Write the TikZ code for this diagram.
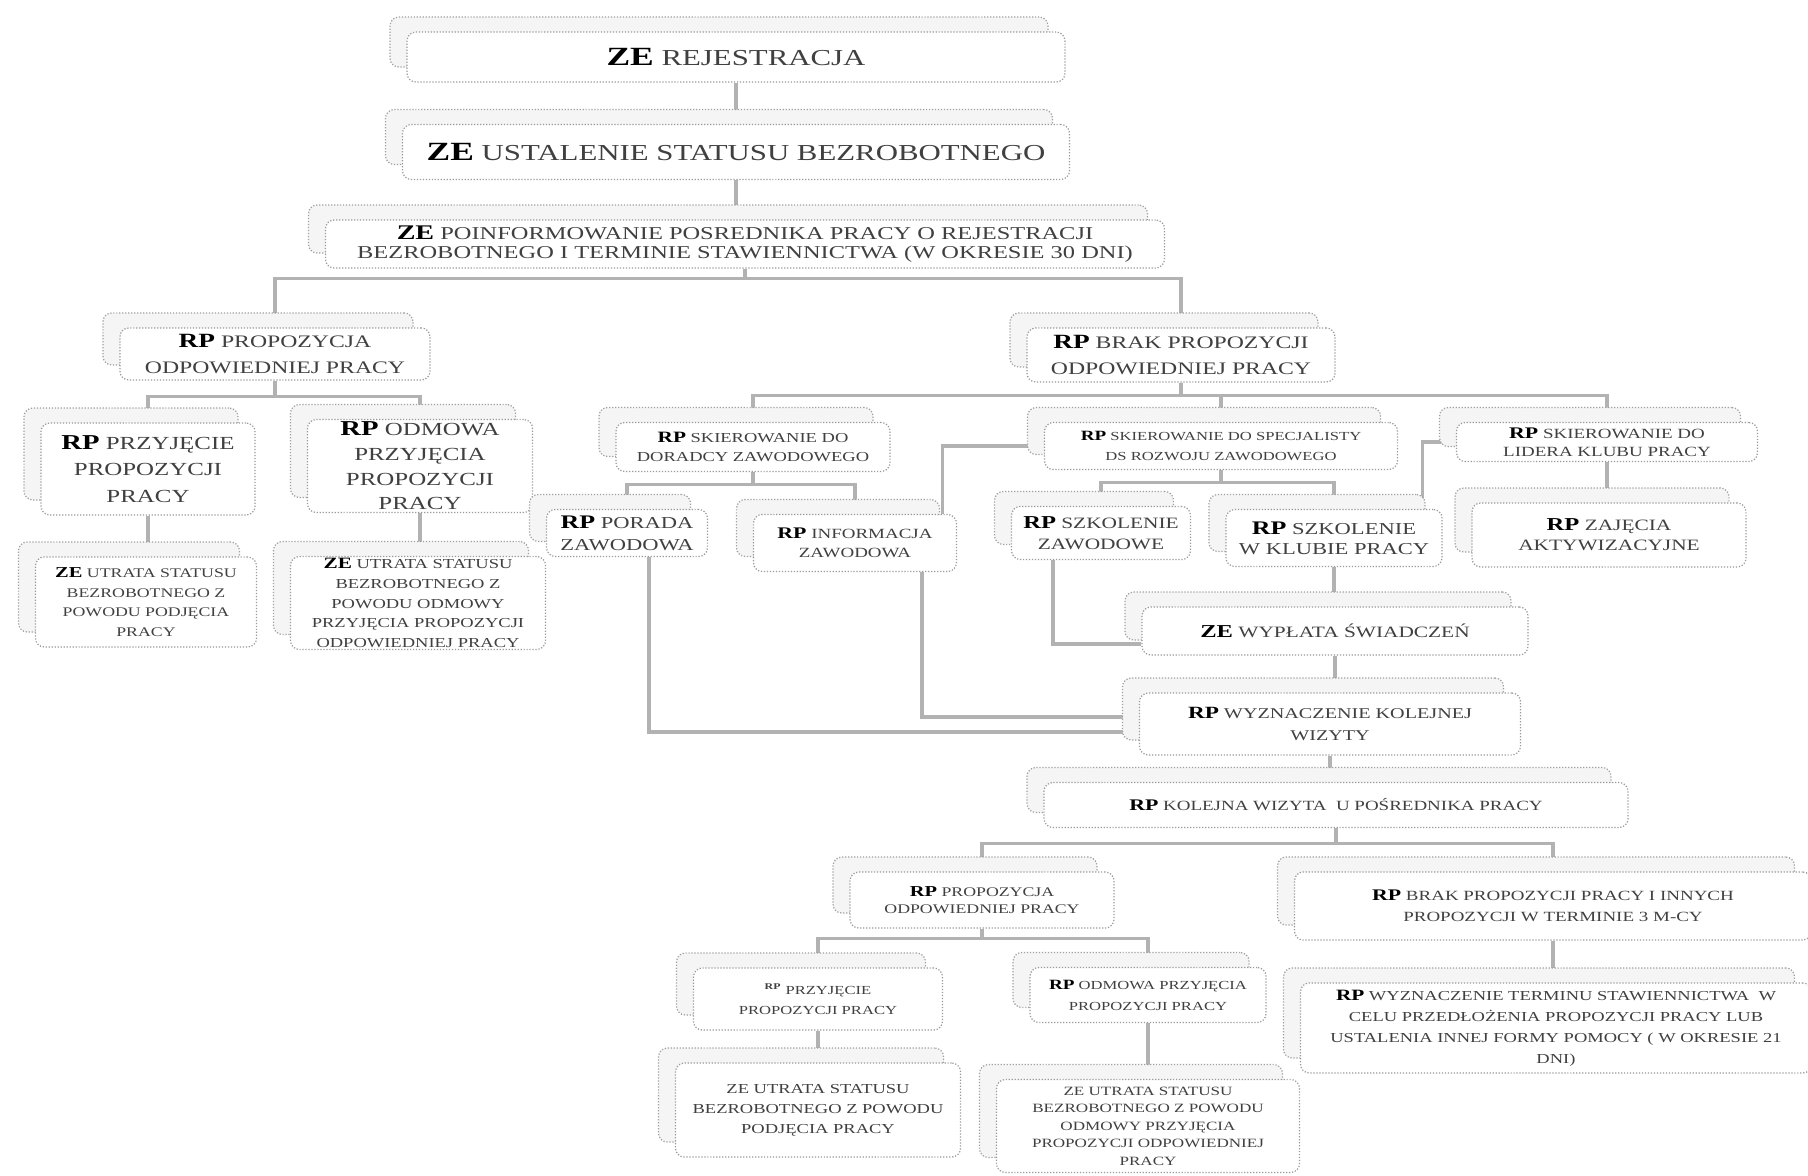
\documentclass[tikz,border=0pt]{standalone}
\usepackage{fontspec}
\setmainfont{Liberation Serif}[FakeStretch=1.35]
\usetikzlibrary{shadows, backgrounds, calc}

\newcommand*\kod[1]{{\color{black}\bfseries\scalebox{1.15}{#1}}}
\newcommand*\fs[2]{\fontsize{#1}{#2}\selectfont}

\tikzset{
  blok/.style={draw=gray!80, densely dotted, line width=0.7pt, rounded corners=5pt, fill=white,
    align=center, inner sep=1pt, text=black!75,
    copy shadow={shadow xshift=-0.34cm, shadow yshift=0.3cm, fill=gray!8, draw=gray!75}},
  rozm/.style 2 args={minimum width=#1*0.02cm, minimum height=#2*0.02cm},
  lacz/.style={draw=gray!60, line width=1.8pt}
}

\begin{document}
\begin{tikzpicture}[x=0.02cm, y=-0.02cm]
  \useasboundingbox (0,0) rectangle (1808,1176);

  \node[blok, rozm={658}{50}, font=\fs{13}{15}] (rej) at (736,57) {\kod{ZE} REJESTRACJA};
  \node[blok, rozm={667}{55}, font=\fs{13}{15}] (stat) at (736,152) {\kod{ZE} USTALENIE STATUSU BEZROBOTNEGO};
  \node[blok, rozm={839}{48}, font=\fs{10.3}{11}] (poinf) at (745,244)
    {\kod{ZE} POINFORMOWANIE POSREDNIKA PRACY O REJESTRACJI\\ BEZROBOTNEGO I TERMINIE STAWIENNICTWA (W OKRESIE 30 DNI)};

  \node[blok, rozm={310}{52}, font=\fs{10}{15}] (propL) at (275,354) {\kod{RP} PROPOZYCJA\\ ODPOWIEDNIEJ PRACY};
  \node[blok, rozm={308}{54}, font=\fs{10}{15}] (brak) at (1181,355) {\kod{RP} BRAK PROPOZYCJI\\ ODPOWIEDNIEJ PRACY};

  \node[blok, rozm={214}{92}, font=\fs{10.5}{15}] (przyjL) at (148,469) {\kod{RP} PRZYJĘCIE\\ PROPOZYCJI\\ PRACY};
  \node[blok, rozm={225}{93}, font=\fs{10.5}{14}] (odmL) at (420,466) {\kod{RP} ODMOWA\\ PRZYJĘCIA\\ PROPOZYCJI\\ PRACY};
  \node[blok, rozm={221}{90}, font=\fs{7.5}{11.2}] (utrL1) at (146,602) {\kod{ZE} UTRATA STATUSU\\ BEZROBOTNEGO Z\\ POWODU PODJĘCIA\\ PRACY};
  \node[blok, rozm={255}{93}, font=\fs{7.8}{11.2}] (utrL2) at (418,603) {\kod{ZE} UTRATA STATUSU\\ BEZROBOTNEGO Z\\ POWODU ODMOWY\\ PRZYJĘCIA PROPOZYCJI\\ ODPOWIEDNIEJ PRACY};

  \node[blok, rozm={274}{49}, font=\fs{7.8}{10.8}] (doradcy) at (753,447) {\kod{RP} SKIEROWANIE DO\\ DORADCY ZAWODOWEGO};
  \node[blok, rozm={353}{47}, font=\fs{7}{11}] (specj) at (1221,446) {\kod{RP} SKIEROWANIE DO SPECJALISTY\\ DS ROZWOJU ZAWODOWEGO};
  \node[blok, rozm={301}{39}, font=\fs{8}{10.5}] (lidera) at (1607,442) {\kod{RP} SKIEROWANIE DO\\ LIDERA KLUBU PRACY};

  \node[blok, rozm={161}{47}, font=\fs{9.5}{12.5}] (porada) at (627,533) {\kod{RP} PORADA\\ ZAWODOWA};
  \node[blok, rozm={203}{57}, font=\fs{8}{11}] (inform) at (855,543) {\kod{RP} INFORMACJA\\ ZAWODOWA};
  \node[blok, rozm={179}{53}, font=\fs{9}{12}] (szkzaw) at (1101,533) {\kod{RP} SZKOLENIE\\ ZAWODOWE};
  \node[blok, rozm={216}{57}, font=\fs{9.5}{11.4}] (szkklub) at (1334,538) {\kod{RP} SZKOLENIE\\ W KLUBIE PRACY};
  \node[blok, rozm={274}{64}, font=\fs{9}{11.4}] (zajecia) at (1609,535) {\kod{RP} ZAJĘCIA\\ AKTYWIZACYJNE};

  \node[blok, rozm={386}{48}, font=\fs{9}{11}] (wyplata) at (1335,631) {\kod{ZE} WYPŁATA ŚWIADCZEŃ};
  \node[blok, rozm={381}{62}, font=\fs{8.5}{12}] (wyzn) at (1330,724) {\kod{RP} WYZNACZENIE KOLEJNEJ\\ WIZYTY};
  \node[blok, rozm={584}{45}, font=\fs{8}{10}] (kolejna) at (1336,805) {\kod{RP} KOLEJNA WIZYTA\ \ U POŚREDNIKA PRACY};

  \node[blok, rozm={264}{56}, font=\fs{7.5}{9.7}] (prop2) at (982,900) {\kod{RP} PROPOZYCJA\\ ODPOWIEDNIEJ PRACY};
  \node[blok, rozm={517}{68}, font=\fs{8}{12}] (brak2) at (1553,906) {\kod{RP} BRAK PROPOZYCJI PRACY I INNYCH\\ PROPOZYCJI W TERMINIE 3 M-CY};
  \node[blok, rozm={249}{62}, font=\fs{7}{11}] (przyj2) at (818,999) {\textsuperscript{\textbf{RP}} PRZYJĘCIE\\ PROPOZYCJI PRACY};
  \node[blok, rozm={236}{55}, font=\fs{7}{12}] (odm2) at (1148,995) {\kod{RP} ODMOWA PRZYJĘCIA\\ PROPOZYCJI PRACY};
  \node[blok, rozm={511}{90}, font=\fs{7.8}{12}] (wyznT) at (1556,1028)
    {\kod{RP} WYZNACZENIE TERMINU STAWIENNICTWA\ \ W\\ CELU PRZEDŁOŻENIA PROPOZYCJI PRACY LUB\\ USTALENIA INNEJ FORMY POMOCY ( W OKRESIE 21\\ DNI)};
  \node[blok, rozm={285}{94}, font=\fs{7.8}{11.4}] (utr3) at (818,1110) {ZE UTRATA STATUSU\\ BEZROBOTNEGO Z POWODU\\ PODJĘCIA PRACY};
  \node[blok, rozm={303}{93}, font=\fs{7.2}{10}] (utr4) at (1148,1126) {ZE UTRATA STATUSU\\ BEZROBOTNEGO Z POWODU\\ ODMOWY PRZYJĘCIA\\ PROPOZYCJI ODPOWIEDNIEJ\\ PRACY};

  \begin{scope}[on background layer]
    \fill[white] (0,0) rectangle (1808,1176);
    \draw[lacz] (rej) -- (rej |- stat);
    \draw[lacz] (stat) -- (stat |- poinf);
    \draw[lacz] (poinf.south) -- ++(0,10) -| (propL);
    \draw[lacz] (poinf.south) -- ++(0,10) -| (brak);
    \draw[lacz] (propL.south) -- ++(0,16) -| (przyjL);
    \draw[lacz] (propL.south) -- ++(0,16) -| (odmL);
    \draw[lacz] (przyjL) -- (przyjL |- utrL1);
    \draw[lacz] (odmL) -- (odmL |- utrL2);
    \draw[lacz] (brak.south) -- ++(0,13) -| (doradcy);
    \draw[lacz] (brak.south) -- ++(0,13) -| (specj);
    \draw[lacz] (brak.south) -- ++(0,13) -| (lidera);
    \draw[lacz] (doradcy.south) -- ++(0,12) -| (porada);
    \draw[lacz] (doradcy.south) -- ++(0,12) -| (inform);
    \draw[lacz] (specj.south) -- ++(0,12) -| (szkzaw);
    \draw[lacz] (specj.south) -- ++(0,12) -| (szkklub);
    \draw[lacz] (lidera) -- (lidera |- zajecia);
    \draw[lacz] (specj.west) -| ([xshift=-0.3cm]inform.north east);
    \draw[lacz] (lidera.west) -| ([xshift=-0.4cm]szkklub.north east);
    \draw[lacz] (szkklub) -- (szkklub |- wyplata);
    \draw[lacz] ([xshift=-0.96cm]szkzaw.south) |- ([yshift=-0.26cm]wyplata.west);
    \draw[lacz] (wyplata) -- (wyplata |- wyzn);
    \draw[lacz] ([xshift=1.34cm]inform.south) |- ([yshift=0.14cm]wyzn.west);
    \draw[lacz] ([xshift=0.44cm]porada.south) |- ([yshift=-0.16cm]wyzn.west);
    \draw[lacz] (wyzn) -- (wyzn |- kolejna);
    \draw[lacz] (kolejna.south) -- ++(0,15) -| (prop2);
    \draw[lacz] (kolejna.south) -- ++(0,15) -| (brak2);
    \draw[lacz] (prop2.south) -- ++(0,10) -| (przyj2);
    \draw[lacz] (prop2.south) -- ++(0,10) -| (odm2);
    \draw[lacz] (przyj2) -- (przyj2 |- utr3);
    \draw[lacz] (odm2) -- (odm2 |- utr4);
    \draw[lacz] (brak2) -- (brak2 |- wyznT);
  \end{scope}
\end{tikzpicture}
\end{document}
